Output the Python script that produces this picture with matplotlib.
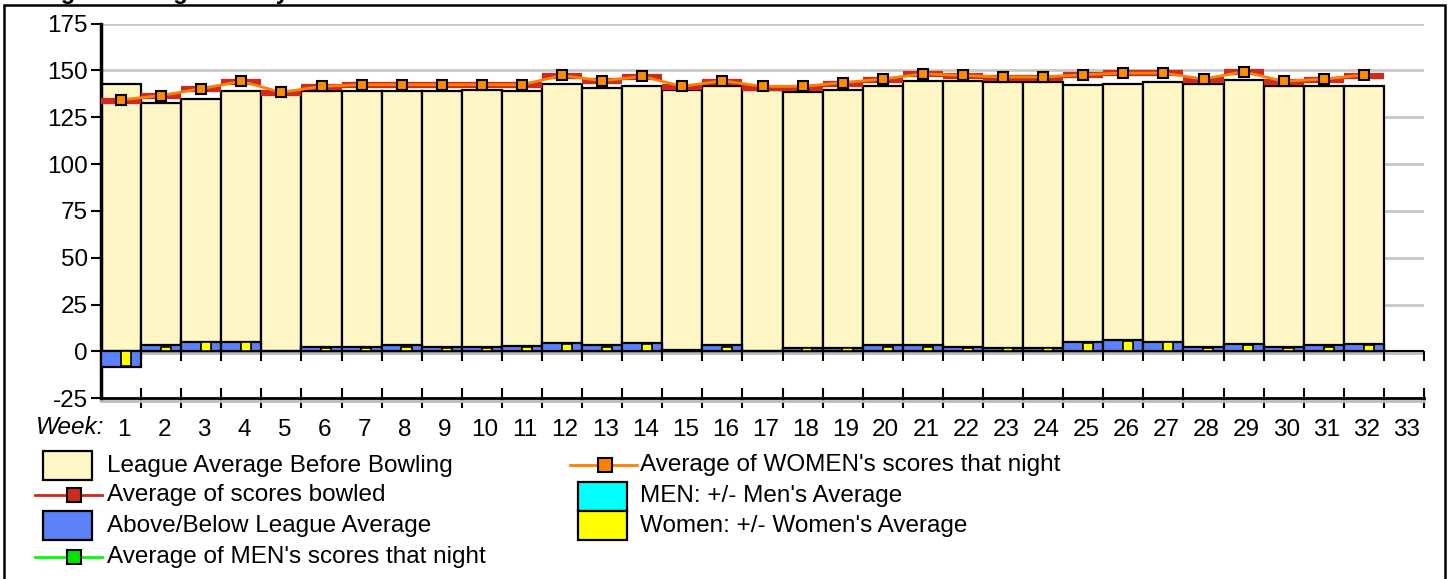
import numpy as np
import matplotlib
matplotlib.use("Agg")
import matplotlib.pyplot as plt
from matplotlib.patches import Rectangle
from matplotlib.lines import Line2D
import matplotlib.transforms as mtransforms

plt.rcParams['font.family'] = ['Liberation Sans', 'DejaVu Sans']
plt.rcParams['axes.unicode_minus'] = False

# ---------------- data ----------------
weeks = np.arange(1, 33)
week_labels = [str(i) for i in range(1, 34)]
league_avg = [142.8, 132.7, 135.0, 138.8, 138.2, 138.8, 138.8, 138.8, 138.8, 139.7,
              138.8, 142.9, 140.6, 141.5, 139.4, 141.5, 139.4, 138.7, 139.4, 141.5,
              144.5, 144.5, 143.6, 143.6, 142.0, 142.9, 143.8, 142.9, 144.7, 141.9,
              141.9, 141.9]
avg_bowled = [133.9, 136.2, 140.1, 143.8, 138.0, 141.0, 142.0, 142.0, 142.0, 142.0,
              142.0, 147.2, 144.2, 146.5, 141.0, 143.8, 140.7, 140.7, 142.9, 145.1,
              148.1, 147.2, 146.0, 146.0, 147.3, 148.6, 148.6, 145.1, 149.1, 143.8,
              145.1, 147.2]
women_avg = [134.3, 136.6, 140.3, 144.2, 138.3, 141.5, 142.4, 142.4, 142.4, 142.4,
             142.4, 147.3, 144.5, 146.8, 141.5, 144.5, 141.5, 141.5, 143.5, 145.4,
             148.2, 147.3, 146.5, 146.5, 147.7, 148.6, 148.6, 145.4, 149.3, 144.2,
             145.4, 147.6]
above_below = [-8.2, 3.2, 5.3, 5.3, 0.0, 2.3, 2.3, 3.2, 2.3, 2.3,
               3.0, 4.4, 3.5, 4.4, 0.6, 3.2, 0.0, 2.1, 2.1, 3.2,
               3.2, 2.5, 2.1, 2.1, 5.3, 6.2, 5.3, 2.3, 4.1, 2.3,
               3.2, 4.1]
women_diff = [-7.6, 2.5, 4.8, 5.0, 0.0, 1.6, 1.6, 2.5, 1.6, 1.6,
              2.5, 3.9, 2.5, 3.9, 0.3, 2.5, 0.0, 1.6, 1.6, 2.5,
              2.5, 1.6, 1.6, 1.6, 4.4, 5.8, 4.8, 1.6, 3.5, 1.6,
              2.5, 3.7]
y_ticks = [-25, 0, 25, 50, 75, 100, 125, 150, 175]

legend_col1 = ["League Average Before Bowling", "Average of scores bowled",
               "Above/Below League Average", "Average of MEN's scores that night"]
legend_col2 = ["Average of WOMEN's scores that night", "MEN: +/- Men's Average",
               "Women: +/- Women's Average"]

# ---------------- colors ----------------
C_LEAGUE = '#fff6c6'
C_BLUE = '#5b80f8'
C_RED = '#cc2b1d'
C_ORANGE = '#ff8000'
C_YELLOW = '#ffff00'
C_CYAN = '#00ffff'
C_GREEN = '#00ff00'
C_GRID = '#c8c8c8'

W, H = 1449, 579
FS = 17.5
fig = plt.figure(figsize=(W / 100, H / 100), dpi=100)

def fx(x):
    return x / W

def fy(y):
    return 1 - y / H

ax_left, ax_right, ax_top, ax_bot = 101, 1424, 23.6, 398.3
ax = fig.add_axes([fx(ax_left), fy(ax_bot), fx(ax_right - ax_left), (ax_bot - ax_top) / H])

ax.set_xlim(0.5, 33.5)
ax.set_ylim(-25, 175)

# grid
ax.set_yticks(y_ticks)
ax.yaxis.grid(True, color=C_GRID, lw=2)
ax.set_axisbelow(True)

# zero line with downward ticks
ax.axhline(0, color='black', lw=1.5, zorder=1.5)
zero_off = mtransforms.offset_copy(ax.transData, fig=fig, x=0, y=-2, units='dots')
ax.plot([0.5, 33.5], [0, 0], color='#bbbbbb', lw=2, transform=zero_off, zorder=1.4)
bounds = np.arange(1.5, 34, 1)
ax.plot(bounds, np.zeros_like(bounds), ls='none', marker=3, ms=7.5, mew=1.5,
        color='black', zorder=1.6)

# bars
ax.bar(weeks, league_avg, width=1.0, color=C_LEAGUE, edgecolor='black', lw=1.6, zorder=2)
ax.bar(weeks, above_below, width=1.0, color=C_BLUE, edgecolor='black', lw=1.6, zorder=3)
ax.bar(weeks + 0.12, women_diff, width=0.25, color=C_YELLOW, edgecolor='black', lw=1.2, zorder=4)

# average of scores bowled: thick segments per week
ax.hlines(avg_bowled, weeks - 0.5, weeks + 0.5, color=C_RED, lw=4.5, zorder=5)

# women's average line
ax.plot(weeks, women_avg, color=C_ORANGE, lw=2, marker='s', ms=6.5, mfc='#ff8c00',
        mec='black', mew=1.5, zorder=6)

# axes styling
for s in ['top', 'right']:
    ax.spines[s].set_visible(False)
ax.spines['left'].set_linewidth(2.5)
ax.spines['bottom'].set_linewidth(2)
bot_off = mtransforms.offset_copy(ax.transData, fig=fig, x=0, y=-2.5, units='dots')
ax.plot([0.5, 33.5], [-25, -25], color='#bbbbbb', lw=2, transform=bot_off, zorder=1,
        clip_on=False)

ax.tick_params(axis='y', length=7.5, width=1.5, pad=2, labelsize=FS, direction='out')
ax.set_xticks(range(1, 34))
ax.set_xticklabels(week_labels)
ax.tick_params(axis='x', which='major', length=0, pad=15, labelsize=FS)
ax.set_xticks(bounds, minor=True)
ax.tick_params(axis='x', which='minor', length=14, width=1.5, direction='inout')
for lbl in ax.get_xticklabels():
    lbl.set_transform(lbl.get_transform() + mtransforms.ScaledTranslation(3 / 100, 0, fig.dpi_scale_trans))

fig.text(fx(36), fy(428), 'Week:', style='italic', fontsize=FS, ha='left', va='center')

# cut-off title
fig.text(fx(20), 1 + 1.0 / H, 'League Average History', fontweight='bold', fontsize=17,
         ha='left', va='baseline')

# outer frame
fig.add_artist(Rectangle((fx(4), -0.1), fx(1445 - 4), 1 - 5 / H + 0.1,
                         transform=fig.transFigure, fill=False, ec='black', lw=1.8))

# ---------------- legend (manual) ----------------
def leg_patch(x0, y0, x1, y1, color):
    fig.add_artist(Rectangle((fx(x0), fy(y1)), fx(x1 - x0), (y1 - y0) / H,
                             transform=fig.transFigure, facecolor=color,
                             edgecolor='black', lw=1.6))

def leg_line(x0, x1, xm, y, color, mcolor):
    fig.add_artist(Line2D([fx(x0), fx(x1)], [fy(y), fy(y)], transform=fig.transFigure,
                          color=color, lw=2))
    fig.add_artist(Line2D([fx(xm)], [fy(y)], transform=fig.transFigure, ls='none',
                          marker='s', ms=9.5, mfc=mcolor, mec='black', mew=1.5))

def leg_text(x, y, s):
    fig.text(fx(x), fy(y), s, fontsize=FS, ha='left', va='center')

rows1 = [466, 495, 526, 557]
leg_patch(43, 451, 92, 480, C_LEAGUE)
leg_line(35, 102, 74, rows1[1], C_RED, C_RED)
leg_patch(43, 511, 92, 540, C_BLUE)
leg_line(35, 102, 74, rows1[3], C_GREEN, '#00e600')
for y, s in zip(rows1, legend_col1):
    leg_text(107, y, s)

rows2 = [465, 496, 526]
leg_line(570, 637, 605, rows2[0], C_ORANGE, C_ORANGE)
leg_patch(578, 482, 627, 511, C_CYAN)
leg_patch(578, 511, 627, 540, C_YELLOW)
for y, s in zip(rows2, legend_col2):
    leg_text(640, y, s)

fig.savefig('out.png', dpi=100)
